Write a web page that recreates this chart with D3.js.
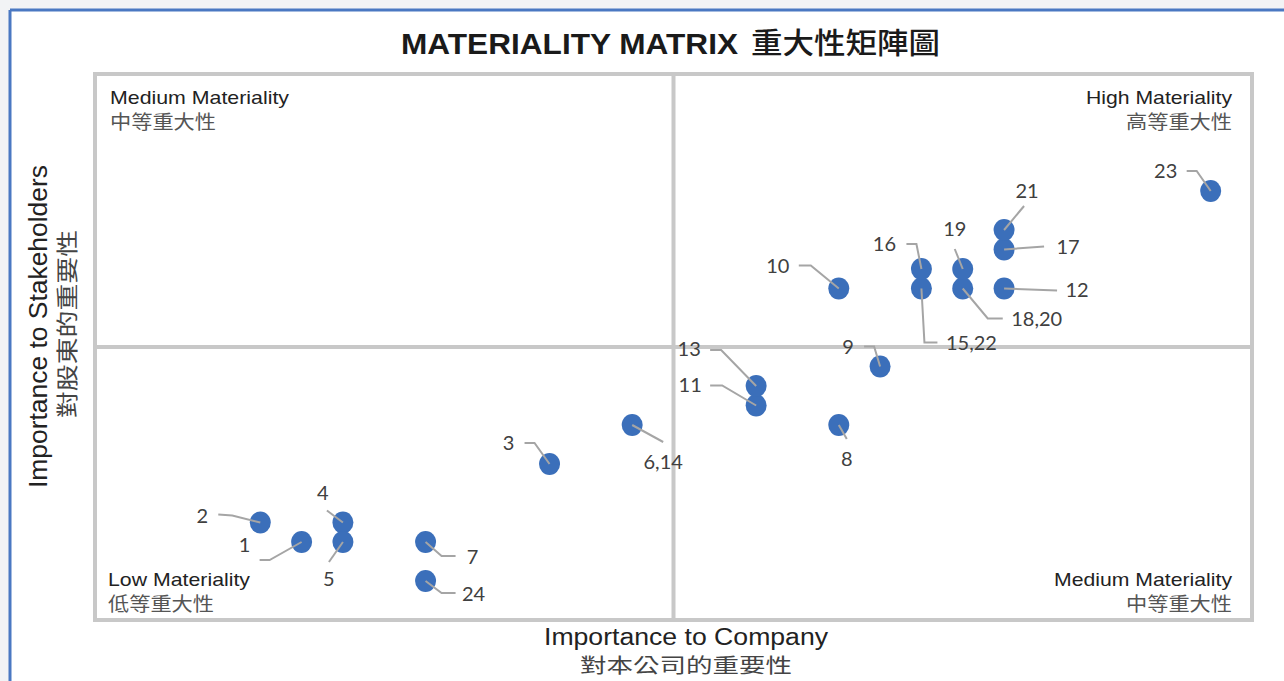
<!DOCTYPE html>
<html>
<head>
<meta charset="utf-8">
<script src="https://cdn.jsdelivr.net/npm/d3@7"></script>
<style>
  html, body { margin: 0; padding: 0; background: #f2f3f5; }
  svg { display: block; }
</style>
</head>
<body>
<svg id="chart" width="1284" height="681"></svg>
<script>
// ---- data ----
const labels  = ["1","2","3","4","5","6,14","7","8","9","10","11","12","13","15,22","16","17","18,20","19","21","23","24"];
const xValues = [5, 4, 11, 6, 6, 13, 8, 18, 19, 18, 16, 22, 16, 20, 20, 22, 21, 21, 22, 27, 8];
const yValues = [4, 5, 8, 5, 4, 10, 4, 10, 13, 17, 11, 17, 12, 17, 18, 19, 17, 18, 20, 22, 2];
const xDomain = [0, 28];
const yDomain = [0, 28];
const xMid = 14, yMid = 14;
const quadrantLabels = [
  {en: "Medium Materiality", zh: "中等重大性", pos: "tl"},
  {en: "High Materiality",   zh: "高等重大性", pos: "tr"},
  {en: "Low Materiality",    zh: "低等重大性", pos: "bl"},
  {en: "Medium Materiality", zh: "中等重大性", pos: "br"}
];

// ---- layout (label placement offsets, px from point) ----
const labelLayout = {
  "1":     {t:[-57,4],   p:[[0,0],[-32,18],[-42,18]]},
  "2":     {t:[-58,-6],  p:[[0,0],[-28,-7],[-42,-8]]},
  "3":     {t:[-41,-20], p:[[0,0],[-15,-21],[-25,-21]]},
  "4":     {t:[-20,-29], p:[[0,0],[-16,-12]]},
  "5":     {t:[-14,38],  p:[[0,0],[-14,20]]},
  "6,14":  {t:[31,38],   p:[[0,0],[31,17]]},
  "7":     {t:[47,16],   p:[[0,0],[16,14],[30,14]]},
  "8":     {t:[8,35],    p:[[0,0],[8,14]]},
  "9":     {t:[-32,-19], p:[[0,0],[-6,-20],[-16,-20]]},
  "10":    {t:[-61,-22], p:[[0,0],[-28,-23],[-40,-23]]},
  "11":    {t:[-66,-20], p:[[0,0],[-34,-20],[-46,-20]]},
  "12":    {t:[73,2],    p:[[0,0],[53,2]]},
  "13":    {t:[-67,-36], p:[[0,0],[-35,-36],[-46,-36]]},
  "15,22": {t:[50,55],   p:[[0,0],[3,54],[16,54]]},
  "16":    {t:[-37,-24], p:[[0,0],[-5,-25],[-15,-25]]},
  "17":    {t:[64,-2],   p:[[0,0],[40,-3]]},
  "18,20": {t:[74,31],   p:[[0,0],[25,30],[40,30]]},
  "19":    {t:[-8,-39],  p:[[0,0],[-8,-20]]},
  "21":    {t:[23,-38],  p:[[0,0],[20,-24]]},
  "23":    {t:[-45,-19], p:[[0,0],[-14,-20],[-24,-20]]},
  "24":    {t:[48,14],   p:[[0,0],[16,12],[30,12]]}
};

const svg = d3.select("#chart");
const W = 1284, H = 681;

// page frame
svg.append("rect").attr("x", 10).attr("y", 10).attr("width", W).attr("height", H)
  .attr("fill", "#ffffff");
svg.append("line").attr("x1", 10).attr("x2", W).attr("y1", 10).attr("y2", 10)
  .attr("stroke", "#4a78c2").attr("stroke-width", 3);
svg.append("line").attr("x1", 10).attr("x2", 10).attr("y1", 10).attr("y2", H)
  .attr("stroke", "#4a78c2").attr("stroke-width", 3);

const box = {x0: 95, x1: 1252, y0: 74, y1: 620};
const x = d3.scaleLinear().domain(xDomain).range([box.x0, box.x1]);
const y = d3.scaleLinear().domain(yDomain).range([box.y1, box.y0]);

const grid = "#c8c8c8";
// outer box
svg.append("rect").attr("x", box.x0).attr("y", box.y0)
  .attr("width", box.x1 - box.x0).attr("height", box.y1 - box.y0)
  .attr("fill", "none").attr("stroke", grid).attr("stroke-width", 4);
// mid lines
svg.append("line").attr("x1", x(xMid)).attr("x2", x(xMid)).attr("y1", box.y0).attr("y2", box.y1)
  .attr("stroke", grid).attr("stroke-width", 4);
svg.append("line").attr("x1", box.x0).attr("x2", box.x1).attr("y1", y(yMid)).attr("y2", y(yMid))
  .attr("stroke", grid).attr("stroke-width", 4);

function fitText(sel, w) {
  sel.attr("textLength", w).attr("lengthAdjust", "spacingAndGlyphs");
  return sel;
}

// title
fitText(svg.append("text").attr("x", 401).attr("y", 54)
  .attr("font-family", "Liberation Sans, Arial, sans-serif").attr("font-weight", "bold")
  .attr("font-size", 30).attr("fill", "#1a1a1a").text("MATERIALITY MATRIX"), 337);
fitText(svg.append("text").attr("x", 751).attr("y", 54)
  .attr("font-family", "Noto Sans CJK TC, Noto Sans CJK SC, sans-serif").attr("font-weight", 500)
  .attr("font-size", 29).attr("fill", "#1a1a1a").text("重大性矩陣圖"), 189);

// quadrant labels
const qEnW = {"Medium Materiality": 179, "High Materiality": 146, "Low Materiality": 142};
quadrantLabels.forEach(q => {
  const right = q.pos[1] === "r";
  const top = q.pos[0] === "t";
  const tx = right ? 1232 : (q.pos === "bl" ? 108 : 110);
  const ty = top ? 104 : 586;
  const w = q.en === "Medium Materiality" && q.pos === "br" ? 178 : qEnW[q.en];
  const en = svg.append("text").attr("x", right ? tx - w : tx).attr("y", ty)
    .attr("font-family", "Liberation Sans, Arial, sans-serif").attr("font-size", 19)
    .attr("fill", "#222").text(q.en);
  fitText(en, w);
  const zw = 106;
  const zh = svg.append("text").attr("x", right ? tx - zw : tx).attr("y", ty + 25)
    .attr("font-family", "Noto Sans CJK TC, Noto Sans CJK SC, sans-serif").attr("font-size", 19)
    .attr("fill", "#555").text(q.zh);
  fitText(zh, zw);
});

// axis titles
fitText(svg.append("text").attr("x", 544).attr("y", 645)
  .attr("font-family", "Liberation Sans, Arial, sans-serif").attr("font-size", 23)
  .attr("fill", "#222").text("Importance to Company"), 284);
fitText(svg.append("text").attr("x", 580).attr("y", 673)
  .attr("font-family", "Noto Sans CJK TC, Noto Sans CJK SC, sans-serif").attr("font-size", 20)
  .attr("fill", "#444").text("對本公司的重要性"), 212);

const yt = svg.append("g").attr("transform", "translate(47,488) rotate(-90)");
fitText(yt.append("text").attr("x", 0).attr("y", 0)
  .attr("font-family", "Liberation Sans, Arial, sans-serif").attr("font-size", 25)
  .attr("fill", "#222").text("Importance to Stakeholders"), 323);
const yt2 = svg.append("g").attr("transform", "translate(75,418) rotate(-90)");
fitText(yt2.append("text").attr("x", 0).attr("y", 0)
  .attr("font-family", "Noto Sans CJK TC, Noto Sans CJK SC, sans-serif").attr("font-size", 22)
  .attr("fill", "#444").text("對股東的重要性"), 188);

// points
const pts = labels.map((l, i) => ({label: l, x: xValues[i], y: yValues[i]}));
svg.append("g").selectAll("ellipse").data(pts).join("ellipse")
  .attr("cx", d => x(d.x)).attr("cy", d => y(d.y))
  .attr("rx", 10.5).attr("ry", 11)
  .attr("fill", "#3b6fba");

// leader lines (over points)
const line = d3.line();
svg.append("g").selectAll("path").data(pts).join("path")
  .attr("d", d => line(labelLayout[d.label].p.map(p => [x(d.x) + p[0], y(d.y) + p[1]])))
  .attr("fill", "none").attr("stroke", "#a5a5a5").attr("stroke-width", 2);

// data labels
svg.append("g").selectAll("text").data(pts).join("text")
  .attr("x", d => x(d.x) + labelLayout[d.label].t[0])
  .attr("y", d => y(d.y) + labelLayout[d.label].t[1] - 2)
  .attr("text-anchor", "middle").attr("dominant-baseline", "central")
  .attr("font-family", "Lato, Open Sans, sans-serif").attr("font-size", 20)
  .attr("fill", "#404040").text(d => d.label);
</script>
</body>
</html>
